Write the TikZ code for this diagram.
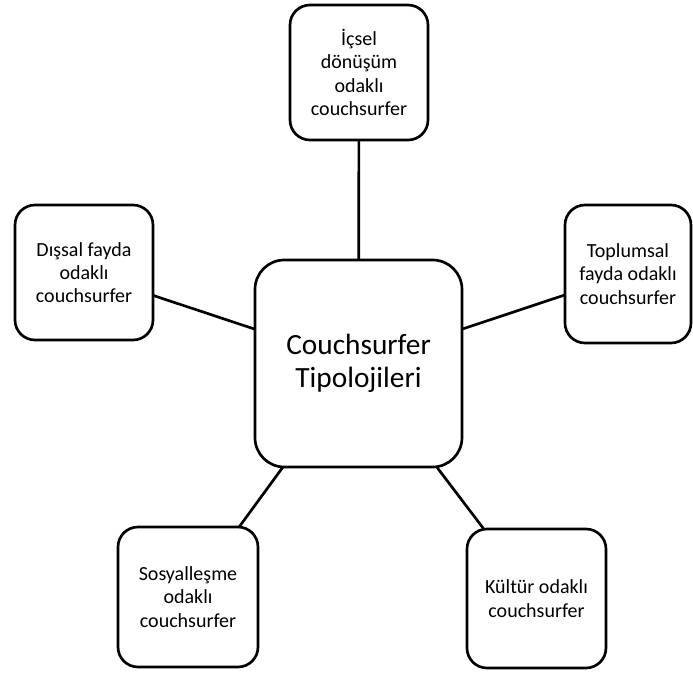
\documentclass[tikz,border=0pt]{standalone}
\usepackage{fontspec}
\setmainfont{Carlito}
\begin{document}
\begin{tikzpicture}[x=0.75pt,y=-0.75pt,
  box/.style={draw=black,line width=2pt,rounded corners=15pt,fill=white,
    inner sep=0pt,outer sep=0pt,align=center,
    font=\fontsize{15pt}{17.5pt}\selectfont},
  hub/.style={box,rounded corners=22pt,minimum width=155.25pt,minimum height=155.25pt,
    font=\fontsize{22pt}{24.75pt}\selectfont},
  link/.style={draw=black,line width=2pt}]
\path[fill=white,use as bounding box] (0,0) rectangle (693,673);
\node[hub] (c) at (358.5,363.5) {Couchsurfer\\Tipolojileri};
\node[box,minimum width=103.5pt,minimum height=101.25pt] (t) at (359,72.5) {İçsel\\dönüşüm\\odaklı\\couchsurfer};
\node[box,minimum width=103.5pt,minimum height=101.25pt] (l) at (84,272.5) {Dışsal fayda\\odaklı\\couchsurfer};
\node[box,minimum width=94.5pt,minimum height=103.5pt] (r) at (628,274) {Toplumsal\\fayda odaklı\\couchsurfer};
\node[box,minimum width=105pt,minimum height=105pt] (bl) at (188,597) {Sosyalleşme\\odaklı\\couchsurfer};
\node[box,minimum width=104.25pt,minimum height=104.25pt] (br) at (536.5,598.5) {Kültür odaklı\\couchsurfer};
\draw[link] (t) -- (c);
\draw[link] (l) -- (c);
\draw[link] (r) -- (c);
\draw[link] (bl) -- (c);
\draw[link] (br) -- (c);
\end{tikzpicture}
\end{document}
